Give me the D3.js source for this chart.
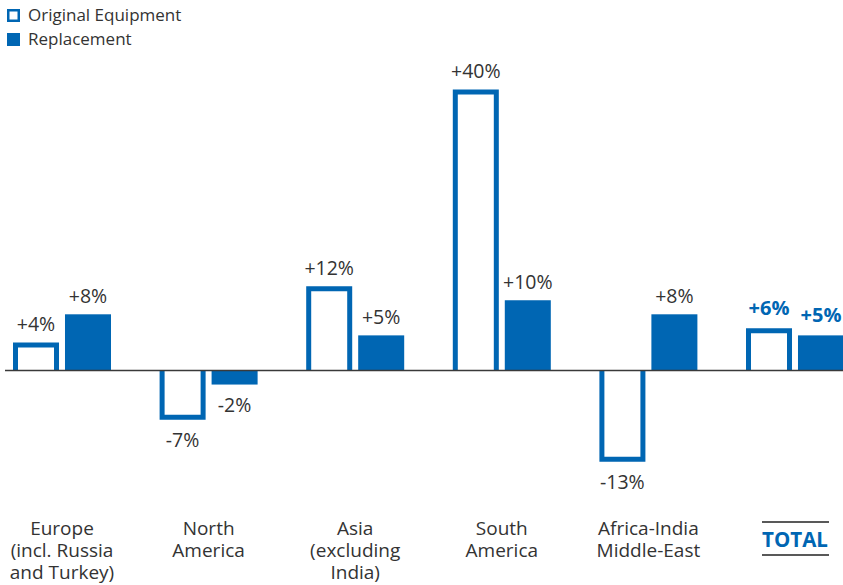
<!DOCTYPE html>
<html>
<head>
<meta charset="utf-8">
<script src="https://cdn.jsdelivr.net/npm/d3@7"></script>
<style>
  html, body { margin: 0; padding: 0; background: #fff; }
  svg { display: block; font-family: "Open Sans", "Noto Sans", sans-serif; }
</style>
</head>
<body>
<svg id="chart" width="843" height="585"></svg>
<script>
// Market growth by region, percent change
const regions = [
  ["Europe", "(incl. Russia", "and Turkey)"],
  ["North", "America"],
  ["Asia", "(excluding", "India)"],
  ["South", "America"],
  ["Africa-India", "Middle-East"],
  ["TOTAL"]
];
const seriesNames = ["Original Equipment", "Replacement"];
const originalEquipment = [4, -7, 12, 40, -13, 6];
const replacement = [8, -2, 5, 10, 8, 5];

const blue = "#0066b3";
const textColor = "#333333";
const strokeW = 5;

const svg = d3.select("#chart");

const regionIdx = d3.range(regions.length);
const x = d3.scalePoint().domain(regionIdx).range([62, 795]);
const xs = d3.scaleBand().domain(seriesNames).range([-49, 49]).paddingInner(0.115).paddingOuter(0);
const y = d3.scaleLinear().domain([0, 40]).range([370.5, 89.5]);

// Bars
const bars = [];
regionIdx.forEach(i => {
  bars.push({ i, s: seriesNames[0], v: originalEquipment[i] });
  bars.push({ i, s: seriesNames[1], v: replacement[i] });
});

const g = svg.append("g");
// Replacement: solid bars
g.selectAll("rect.rep")
  .data(bars.filter(d => d.s === seriesNames[1]))
  .join("rect")
  .attr("class", "rep")
  .attr("x", d => x(d.i) + xs(d.s))
  .attr("width", xs.bandwidth())
  .attr("y", d => Math.min(y(d.v), y(0)))
  .attr("height", d => Math.abs(y(d.v) - y(0)))
  .attr("fill", blue);

// Original equipment: outlined bars, open on the zero side
g.selectAll("path.oe")
  .data(bars.filter(d => d.s === seriesNames[0]))
  .join("path")
  .attr("class", "oe")
  .attr("fill", "#fff")
  .attr("stroke", blue)
  .attr("stroke-width", strokeW)
  .attr("d", d => {
    const inset = strokeW / 2;
    const l = x(d.i) + xs(d.s) + inset;
    const r = x(d.i) + xs(d.s) + xs.bandwidth() - inset;
    const y0 = y(0);
    const yv = d.v >= 0 ? y(d.v) + inset : y(d.v) - inset;
    const p = d3.path();
    p.moveTo(l, y0);
    p.lineTo(l, yv);
    p.lineTo(r, yv);
    p.lineTo(r, y0);
    return p.toString();
  });

// Zero line
svg.append("line")
  .attr("x1", 5).attr("x2", 843)
  .attr("y1", y(0)).attr("y2", y(0))
  .attr("stroke", "#3a3a3a").attr("stroke-width", 1.6);

// Value labels
const isTotal = i => i === regions.length - 1;
svg.selectAll("text.val")
  .data(bars)
  .join("text")
  .attr("class", "val")
  .attr("x", d => x(d.i) + xs(d.s) + xs.bandwidth() / 2)
  .attr("y", d => d.v >= 0 ? y(d.v) - (isTotal(d.i) ? 13 : 11.5) : y(d.v) + 27)
  .attr("text-anchor", "middle")
  .attr("font-size", d => isTotal(d.i) ? 20 : 19.5)
  .attr("font-weight", d => isTotal(d.i) ? 700 : 400)
  .attr("fill", d => isTotal(d.i) ? blue : textColor)
  .text(d => (d.v > 0 ? "+" : "") + d.v + "%");

// Region labels, one text per line
const catLines = [];
regionIdx.forEach(i => regions[i].forEach((ln, k) => catLines.push({ i, k, ln })));
svg.selectAll("text.cat")
  .data(catLines)
  .join("text")
  .attr("class", "cat")
  .attr("text-anchor", "middle")
  .attr("x", d => x(d.i))
  .attr("y", d => isTotal(d.i) ? 547 : 535 + d.k * 22)
  .attr("font-size", d => isTotal(d.i) ? 20.5 : 19)
  .attr("fill", d => isTotal(d.i) ? blue : textColor)
  .attr("font-weight", d => isTotal(d.i) ? 700 : 400)
  .text(d => d.ln);

// Rules framing TOTAL
[522, 555].forEach(yy => {
  svg.append("line")
    .attr("x1", x(regions.length - 1) - 33).attr("x2", x(regions.length - 1) + 34)
    .attr("y1", yy).attr("y2", yy)
    .attr("stroke", "#222").attr("stroke-width", 1.5);
});

// Legend
const legend = svg.append("g");
seriesNames.forEach((name, k) => {
  const yy = 9 + k * 24;
  if (k === 0) {
    legend.append("rect").attr("x", 8.25).attr("y", yy + 1.25).attr("width", 10.5).attr("height", 10.5)
      .attr("fill", "#fff").attr("stroke", blue).attr("stroke-width", 2.5);
  } else {
    legend.append("rect").attr("x", 7).attr("y", yy).attr("width", 13).attr("height", 13).attr("fill", blue);
  }
  legend.append("text").attr("x", 28).attr("y", yy + 12)
    .attr("font-size", 17).attr("fill", textColor).text(name);
});
</script>
</body>
</html>
